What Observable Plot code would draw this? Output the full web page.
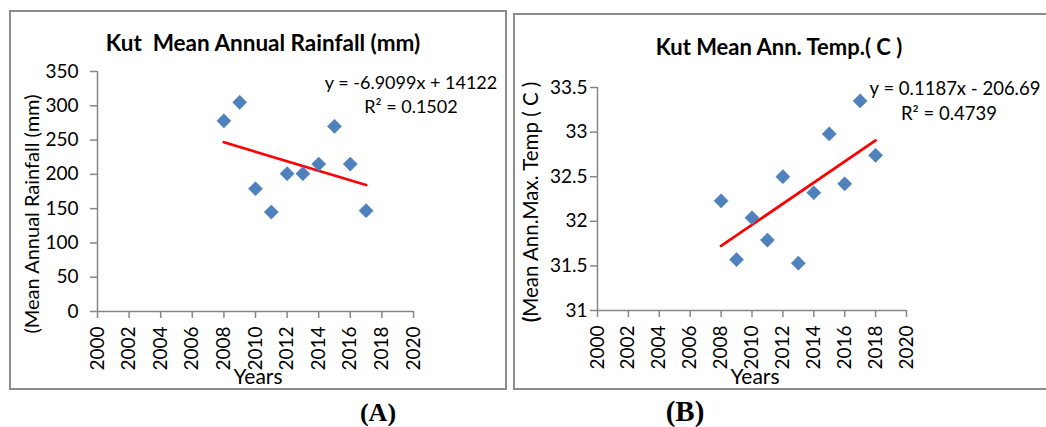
<!DOCTYPE html>
<html><head><meta charset="utf-8">
<script src="https://cdn.jsdelivr.net/npm/d3@7"></script>
<script src="https://cdn.jsdelivr.net/npm/@observablehq/plot@0.6"></script>
<style>
body{margin:0;background:#fff;}
#root{position:relative;width:1046px;height:427px;overflow:hidden;font-family:Lato,"Open Sans",sans-serif;background:#fff;}
.frame{position:absolute;border:2px solid #8c8c8c;box-sizing:border-box;}
.t{position:absolute;white-space:nowrap;color:#000;line-height:1;transform:translate(-50%,-50%);}
.rot{transform:translate(-50%,-50%) rotate(-90deg);}
.plot{position:absolute;}
.lab{font-family:"Liberation Serif","Times New Roman",serif;font-weight:bold;}
</style>
</head><body>
<div id="root">
  <div class="frame" style="left:9px;top:10px;width:498px;height:380px;"></div>
  <div class="frame" style="left:513px;top:13px;width:545px;height:377px;"></div>
  <div id="pA" class="plot" style="left:9px;top:10px;"></div>
  <div id="pB" class="plot" style="left:513px;top:13px;"></div>
  <div class="t" style="left:263px;top:43px;font-size:22.5px;font-weight:bold;">Kut&nbsp;&nbsp;Mean Annual Rainfall (mm)</div>
  <div class="t" style="left:411px;top:82px;font-size:18px;">y = -6.9099x + 14122</div>
  <div class="t" style="left:411px;top:106px;font-size:18px;">R² = 0.1502</div>
  <div class="t rot" style="left:31px;top:214px;font-size:20px;">(Mean Annual Rainfall (mm)</div>
  <div class="t" style="left:258px;top:375px;font-size:21px;">Years</div>
  <div class="t" style="left:779px;top:47px;font-size:22px;font-weight:bold;">Kut Mean Ann. Temp.( C )</div>
  <div class="t" style="left:955px;top:88px;font-size:18.5px;">y = 0.1187x - 206.69</div>
  <div class="t" style="left:949px;top:113px;font-size:18.5px;">R² = 0.4739</div>
  <div class="t rot" style="left:530px;top:202px;font-size:20.5px;"><b>(</b>Mean Ann.Max. Temp ( C )</div>
  <div class="t" style="left:755px;top:375px;font-size:21px;">Years</div>
  <div class="t lab" style="left:378px;top:413px;font-size:26px;">(A)</div>
  <div class="t lab" style="left:685px;top:411px;font-size:29px;">(B)</div>
</div>
<script>
// ---- data ----
const rainYears = [2008, 2009, 2010, 2011, 2012, 2013, 2014, 2015, 2016, 2017];
const rainfall  = [278, 305, 179, 145, 201, 201, 215, 270, 215, 147];
const tempYears = [2008, 2009, 2010, 2011, 2012, 2013, 2014, 2015, 2016, 2017, 2018];
const temperature = [32.23, 31.57, 32.04, 31.79, 32.5, 31.53, 32.32, 32.98, 32.42, 33.35, 32.74];
const xTicks = [2000, 2002, 2004, 2006, 2008, 2010, 2012, 2014, 2016, 2018, 2020];
const rainTicks = [0, 50, 100, 150, 200, 250, 300, 350];
const tempTicks = [31, 31.5, 32, 32.5, 33, 33.5];

const rainData = rainYears.map((y, i) => ({year: y, value: rainfall[i]}));
const tempData = tempYears.map((y, i) => ({year: y, value: temperature[i]}));

const axisGray = "#868686";
const blue = "#4F81BD";

function panel(data, yTicks, opts) {
  return Plot.plot({
    width: opts.width, height: opts.height,
    marginLeft: opts.ml, marginRight: opts.mr, marginTop: opts.mt, marginBottom: opts.mb,
    style: {fontFamily: "Lato, 'Open Sans', sans-serif", fontSize: "19px", color: "#000", background: "transparent", overflow: "visible"},
    x: {domain: [xTicks[0], xTicks[xTicks.length - 1]]},
    y: {domain: [yTicks[0], yTicks[yTicks.length - 1]]},
    marks: [
      Plot.axisY({ticks: yTicks, tickSize: 7, tickPadding: opts.yPad, label: null, stroke: axisGray, strokeWidth: 1.5, tickFormat: d => String(d)}),
      Plot.axisX({ticks: xTicks, tickSize: 7, tickPadding: 8, tickRotate: -90, label: null, stroke: axisGray, strokeWidth: 1.5, tickFormat: d => String(d)}),
      Plot.ruleX([xTicks[0]], {stroke: axisGray, strokeWidth: 1.5}),
      Plot.ruleY([yTicks[0]], {stroke: axisGray, strokeWidth: 1.5}),
      Plot.linearRegressionY(data, {x: "year", y: "value", stroke: "#FF0000", strokeWidth: 2.75, ci: 0}),
      Plot.dot(data, {x: "year", y: "value", symbol: "diamond2", r: 6.4, fill: blue, stroke: "#4a7ab3", strokeWidth: 0.5})
    ]
  });
}

document.getElementById("pA").append(panel(rainData, rainTicks, {width: 498, height: 380, ml: 88, mr: 94, mt: 61, mb: 79, yPad: 12}));
document.getElementById("pB").append(panel(tempData, tempTicks, {width: 533, height: 377, ml: 84, mr: 140, mt: 74, mb: 80, yPad: 3}));
</script>
</body></html>
